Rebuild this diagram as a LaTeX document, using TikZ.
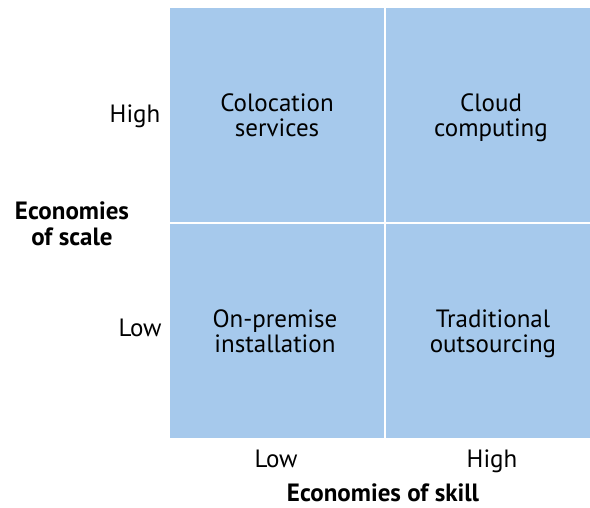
\documentclass[tikz,border=0pt]{standalone}
\usepackage{fontspec}
\setmainfont{PT Sans}
\definecolor{cellblue}{HTML}{A6C9EC}
\begin{document}
\begin{tikzpicture}[x=1pt,y=-1pt,
  cell/.style={fill=cellblue,draw=none},
  celltext/.style={font=\fontsize{25}{25}\selectfont,align=center,text=black},
  axistext/.style={font=\fontsize{25}{25}\selectfont,text=black},
  axistitle/.style={font=\fontsize{25}{26}\selectfont\bfseries,align=center,text=black}]
\useasboundingbox (0,0) rectangle (590,508);
\fill[cell] (170,8) rectangle (384,222);
\fill[cell] (386,8) rectangle (590,222);
\fill[cell] (170,224) rectangle (384,438);
\fill[cell] (386,224) rectangle (590,438);
\node[celltext] (tl) at (277,115.5) {Colocation\\services};
\node[celltext] (tr) at (491,117.5) {Cloud\\computing};
\node[celltext] (bl) at (275,331.5) {On-premise\\installation};
\node[celltext] (br) at (493,333.5) {Traditional\\outsourcing};
\node[axistext] (yhigh) at (135,116) {High};
\node[axistext] (ylow) at (140,328) {Low};
\node[axistitle] (ytitle) at (72,224) {Economies\\of scale};
\node[axistext] (xlow) at (276,459) {Low};
\node[axistext] (xhigh) at (492,461) {High};
\node[axistitle] (xtitle) at (383,493) {Economies of skill};
\end{tikzpicture}
\end{document}
